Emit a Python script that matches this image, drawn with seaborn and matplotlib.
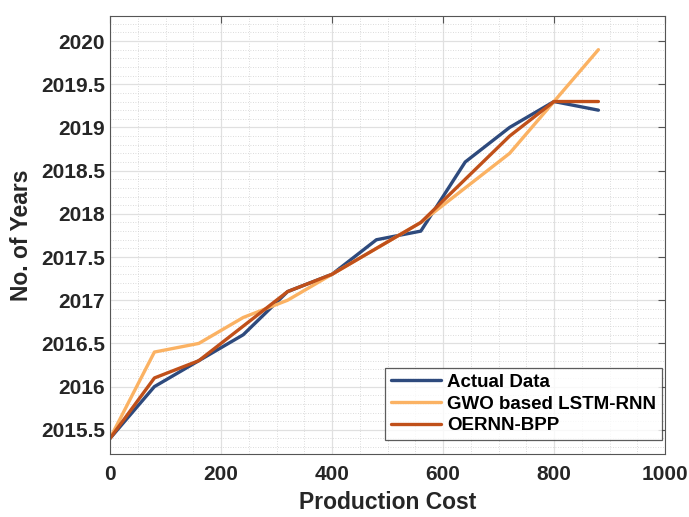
import matplotlib
matplotlib.use("Agg")
import matplotlib.pyplot as plt
import seaborn as sns
import pandas as pd
from matplotlib.ticker import MultipleLocator

cost = [0, 80, 160, 240, 320, 400, 480, 560, 640, 720, 800, 880]
actual = [2015.4, 2016.0, 2016.3, 2016.6, 2017.1, 2017.3, 2017.7, 2017.8, 2018.6, 2019.0, 2019.3, 2019.2]
gwo = [2015.4, 2016.4, 2016.5, 2016.8, 2017.0, 2017.3, 2017.6, 2017.9, 2018.3, 2018.7, 2019.3, 2019.9]
oernn = [2015.4, 2016.1, 2016.3, 2016.7, 2017.1, 2017.3, 2017.6, 2017.9, 2018.4, 2018.9, 2019.3, 2019.3]
names = ["Actual Data", "GWO based LSTM-RNN", "OERNN-BPP"]
colors = ["#2E4A7D", "#FBB263", "#C0501A"]
yticks = [2015.5, 2016, 2016.5, 2017, 2017.5, 2018, 2018.5, 2019, 2019.5, 2020]
ytick_labels = ["2015.5", "2016", "2016.5", "2017", "2017.5", "2018", "2018.5", "2019", "2019.5", "2020"]

sns.set_style("white")
plt.rcParams['font.family'] = ['Liberation Sans', 'DejaVu Sans']

df = pd.DataFrame({
    "cost": cost * 3,
    "year": actual + gwo + oernn,
    "series": sum([[n] * len(cost) for n in names], []),
})

fig = plt.figure(figsize=(6.89, 5.17), dpi=100)
ax = fig.add_axes([110/689, 1 - 454/517, 555/689, 438/517])
sns.lineplot(data=df, x="cost", y="year", hue="series", palette=dict(zip(names, colors)),
             linewidth=2.4, ax=ax, sort=False, estimator=None)

ax.set_xlim(0, 1000)
ax.set_ylim(2015.22, 2020.29)
ax.set_xticks([0, 200, 400, 600, 800, 1000])
ax.set_yticks(yticks)
ax.set_yticklabels(ytick_labels)
ax.xaxis.set_minor_locator(MultipleLocator(50))
ax.yaxis.set_minor_locator(MultipleLocator(0.1))
ax.grid(which="major", color="#e0e0e0", linewidth=0.9)
ax.grid(which="minor", color="#d0d0d0", linestyle=(0, (1, 2)), linewidth=0.6)
ax.set_axisbelow(True)
for s in ax.spines.values():
    s.set_color("#555555")
    s.set_linewidth(0.8)
ax.tick_params(which="major", direction="in", length=5, color="#555555",
               top=True, right=True, labelsize=15, labelcolor="#262626")
ax.tick_params(axis="x", pad=8)
ax.tick_params(which="minor", length=0)
for lab in ax.get_xticklabels() + ax.get_yticklabels():
    lab.set_fontweight("bold")
ax.set_xlabel("Production Cost", fontsize=16.5, fontweight="bold", color="#262626", labelpad=5)
ax.set_ylabel("No. of Years", fontsize=16.5, fontweight="bold", color="#262626", labelpad=6)

leg = ax.legend(loc="lower right", bbox_to_anchor=(0.994, 0.032), frameon=True, fancybox=False,
                prop={"weight": "bold", "size": 13.5}, handlelength=2.7, borderpad=0.3,
                labelspacing=0.25, handletextpad=0.3, borderaxespad=0)
leg.get_frame().set_edgecolor("#333333")
leg.get_frame().set_linewidth(0.9)
for t in leg.get_texts():
    t.set_color("black")
leg.set_title(None)

fig.savefig("out.png", dpi=100)
